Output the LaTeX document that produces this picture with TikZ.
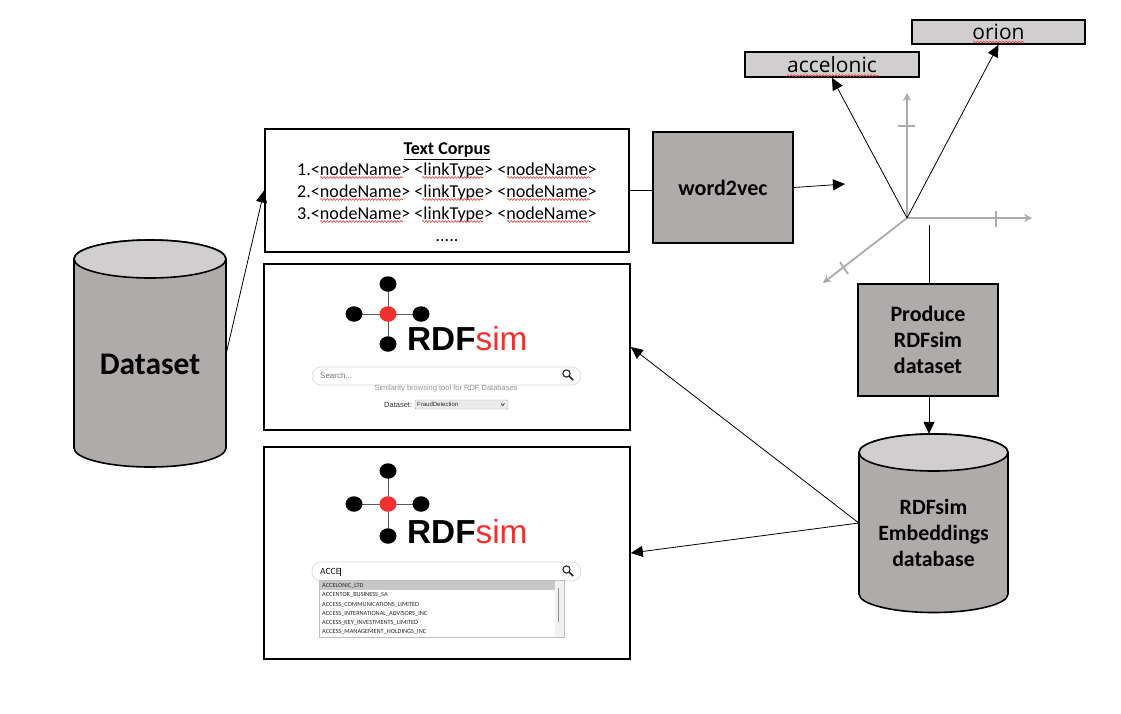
\documentclass[tikz,border=0pt]{standalone}
\usepackage{fontspec}
\setmainfont{Carlito}
\newfontfamily\arialf{Liberation Sans}
\newfontfamily\opensans{Open Sans}
\usetikzlibrary{arrows.meta,decorations.pathmorphing,shapes.geometric}
\definecolor{boxgray}{HTML}{AFABAB}
\definecolor{lightgray2}{HTML}{D0CECE}
\definecolor{axisgray}{HTML}{ABABAB}
\definecolor{rdfred}{HTML}{F23030}
\definecolor{squigred}{HTML}{F04040}
\newcommand{\fs}[1]{\fontsize{#1pt}{#1pt}\selectfont}
\tikzset{
  x=1pt,y=-1pt,
  framebox/.style={draw=black,line width=1.6pt,fill=white,inner sep=0pt,anchor=center},
  graybox/.style={draw=black,line width=1.6pt,fill=boxgray,inner sep=0pt,align=center,font=\fontsize{22}{26}\selectfont\bfseries},
  labelbox/.style={draw=black,line width=1.6pt,fill=lightgray2,inner sep=0pt,font=\opensans\fs{21}},
  conn/.style={draw=black,line width=.8pt},
  arr/.style={conn,-{Triangle[length=12pt,width=11pt]}},
  axis/.style={draw=axisgray,line width=1.8pt,-{Stealth[length=8pt,width=8pt]}},
  tick/.style={draw=axisgray,line width=1.8pt},
  squig/.style={draw=squigred,line width=.6pt,decorate,decoration={snake,amplitude=.9pt,segment length=3.2pt}},
  dot/.style={ellipse,fill=black,inner sep=0pt,minimum width=17pt,minimum height=15.5pt},
  logoline/.style={draw=black!65,line width=.8pt},
  cyl/.style={draw=black,line width=1.6pt},
  txt/.style={inner sep=0pt,anchor=west},
  corpusline/.style={inner sep=0pt,anchor=base,font=\fs{18.1}},
}
% search magnifier
\newcommand{\lens}[2]{%
  \draw[line width=1.1pt,black!85] (#1-1.5,#2-1.5) circle[radius=3.6pt];
  \draw[line width=1.7pt,black!85] (#1+1.2,#2+1.2) -- (#1+5,#2+5);
}
% #1 prefix, #2 y of centre, #3 arm up, #4 arm down, #5 text baseline y
\newcommand{\rdflogo}[5]{%
  \path (388,#2) coordinate (#1c);
  \draw[logoline] (388,#2-#3) -- (388,#2+#4) (354,#2) -- (421,#2);
  \node[dot] (#1top) at (388,#2-#3) {};
  \node[dot] (#1bot) at (388,#2+#4) {};
  \node[dot] (#1lft) at (354,#2) {};
  \node[dot] (#1rgt) at (421,#2) {};
  \node[dot,fill=rdfred] (#1mid) at (388,#2) {};
  \node[inner sep=0pt,anchor=base west,font=\arialf\fs{33.3}] (#1name) at (407,#5)
    {\textbf{RDF}\textcolor{rdfred}{sim}};
}
\begin{document}
\begin{tikzpicture}
\useasboundingbox (0,0) rectangle (1121,713);
\fill[white] (0,0) rectangle (1121,713);

% ---- Dataset cylinder
\path[cyl,fill=boxgray] (74,259) -- (74,448) arc[start angle=180,end angle=360,x radius=76pt,y radius=19pt] -- (226,259) arc[start angle=0,end angle=-180,x radius=76pt,y radius=-19pt] -- cycle;
\path[cyl,fill=lightgray2] (150,259) ellipse[x radius=76pt,y radius=19pt];
\node[inner sep=0pt,minimum width=152pt,minimum height=227pt] (dataset) at (150,353.5) {};
\node[inner sep=0pt,font=\fs{31.5}\bfseries] (datasettext) at (150,364) {Dataset};

% ---- RDFsim database cylinder
\path[cyl,fill=boxgray] (859,452.5) -- (859,594) arc[start angle=180,end angle=360,x radius=74.5pt,y radius=18.5pt] -- (1008,452.5) arc[start angle=0,end angle=-180,x radius=74.5pt,y radius=-18.5pt] -- cycle;
\path[cyl,fill=lightgray2] (933.5,452.5) ellipse[x radius=74.5pt,y radius=18.5pt];
\node[inner sep=0pt,minimum width=149pt,minimum height=178pt] (rdfdb) at (933.5,523) {};
\node[inner sep=0pt,align=center,font=\fontsize{21.8}{26}\selectfont\bfseries] (rdfdbtext) at (933.5,533) {RDFsim\\Embeddings\\database};

% ---- boxes
\node[framebox,minimum width=364pt,minimum height=123pt] (corpus) at (447,190.5) {};
\node[inner sep=0pt,font=\fs{18}\bfseries] (ctitle) at (447,151) {\underline{Text Corpus}};
\node[corpusline] (l1) at (447,175) {1.<nodeName> <linkType> <nodeName>};
\node[corpusline] (l2) at (447,197) {2.<nodeName> <linkType> <nodeName>};
\node[corpusline] (l3) at (447,219) {3.<nodeName> <linkType> <nodeName>};
\node[corpusline] (l4) at (447,241) {.....};
\foreach \yy in {177.5,199.5,221.5}{
  \draw[squig] (320,\yy) -- (403,\yy);
  \draw[squig] (422,\yy) -- (483,\yy);
  \draw[squig] (507,\yy) -- (590,\yy);
}
\node[graybox,minimum width=140pt,minimum height=111pt] (w2v) at (723,187.5) {word2vec};
\node[graybox,minimum width=140pt,minimum height=112pt] (produce) at (928,340) {Produce\\RDFsim\\dataset};
\node[framebox,minimum width=366pt,minimum height=166pt] (logoa) at (447,347) {};
\node[framebox,minimum width=366pt,minimum height=212pt] (logob) at (447,553) {};
\node[labelbox,minimum width=174pt,minimum height=25pt] (accel) at (832,64.5) {accelonic};
\node[labelbox,minimum width=173pt,minimum height=24pt] (orion) at (998.5,32) {orion};
\draw[squig] (787,75.5) -- (878,75.5);
\draw[squig] (973,42) -- (1024,42);

% ---- axes
\coordinate (o) at (907,218);
\coordinate (axu) at (907,93);
\coordinate (axr) at (1032,218);
\coordinate (axd) at (823,283);
\coordinate (vecin) at (845,184);
\coordinate (prodtop) at (929,225);
\draw[axis] (o) -- (axu);
\draw[axis] (o) -- (axr);
\draw[axis] (o) -- (axd);
\draw[tick] (898,126) -- (915,126);
\draw[tick] (996,211) -- (996,227);
\draw[tick] (840,262) -- (848,274);

% ---- connectors
\draw[arr] (dataset.east) -- (corpus.west);
\draw[conn] (corpus.east) -- (corpus.east -| w2v.west);
\draw[arr] (w2v.east) -- (vecin);
\draw[conn] (produce.north -| prodtop) -- (prodtop);
\draw[arr] (produce.south -| prodtop) -- (prodtop |- rdfdb.north);
\draw[arr] (rdfdb.west) -- (logoa.east);
\draw[arr] (rdfdb.west) -- (logob.east);
\draw[arr] (o) -- (accel.south);
\draw[arr] (o) -- (orion.south);

% ---- logo 1 content
\rdflogo{a}{314}{30}{30}{350}
\node[draw=black!15,line width=.7pt,rounded corners=9pt,minimum width=269pt,minimum height=18pt,inner sep=0pt] (searcha) at (446.5,376) {};
\node[txt,font=\arialf\fs{8},text=black!55] (searchatext) at (320,376) {Search...};
\lens{568}{375}
\node[inner sep=0pt,font=\arialf\fs{7.5},text=black!42] (capt) at (446,388.5) {Similarity browsing tool for RDF Databases};
\node[txt,font=\arialf\fs{7.5},text=black!80] (dslabel) at (384,404.5) {Dataset:};
\node[draw=black!35,fill=black!8,rounded corners=1pt,minimum width=93pt,minimum height=9pt,inner sep=0pt] (select) at (461.5,404.5) {};
\node[txt,font=\arialf\fs{6},text=black!85] (seltext) at (417,404.5) {FraudDetection};
\draw[black!80,line width=.7pt] (501,403.5) -- (502.8,405.5) -- (504.6,403.5);

% ---- logo 2 content
\rdflogo{b}{504}{33}{32}{543}
\node[draw=black!15,line width=.7pt,rounded corners=9pt,minimum width=269pt,minimum height=19pt,inner sep=0pt] (searchb) at (446.5,571.5) {};
\node[txt,font=\fs{9.5},text=black!90] (searchbtext) at (320,572) {ACCE\rule[-1.5pt]{.4pt}{8pt}};
\lens{568}{571}
\node[draw=black!25,fill=white,line width=.7pt,minimum width=245pt,minimum height=57pt,inner sep=0pt] (list) at (441.5,608.5) {};
\fill[black!22] (319.5,580.5) rectangle (555,590);
\fill[black!5] (555,580.5) rectangle (563.5,636.5);
\fill[black!45] (557.5,588) rectangle (559,622);
\foreach \yy/\tt in {586/ACCELONIC\_LTD,595/ACCENTOR\_BUSINESS\_SA,604.5/ACCESS\_COMMUNICATIONS\_LIMITED,613.5/ACCESS\_INTERNATIONAL\_ADVISORS\_INC,623/ACCESS\_KEY\_INVESTMENTS\_LIMITED,632/ACCESS\_MANAGEMENT\_HOLDINGS\_INC}{
  \node[txt,font=\fs{6.3},text=black!85] at (322,\yy) {\tt};
}
\end{tikzpicture}
\end{document}
